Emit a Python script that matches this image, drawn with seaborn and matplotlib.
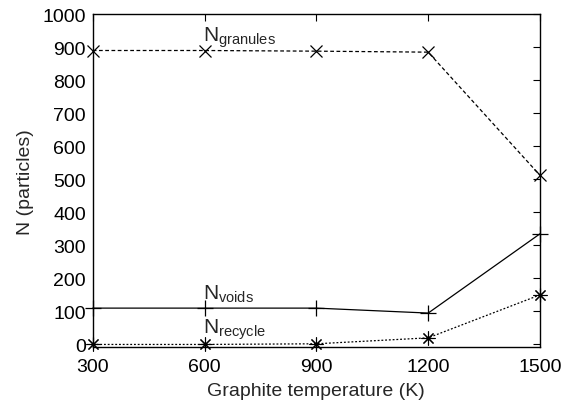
import matplotlib
matplotlib.use("Agg")
import matplotlib.pyplot as plt
import seaborn as sns
import pandas as pd

temps = [300, 600, 900, 1200, 1500]
n_granules = [890, 890, 888, 885, 512]
n_voids = [110, 110, 110, 95, 335]
n_recycle = [0, 0, 2, 20, 150]
x_ticks = [300, 600, 900, 1200, 1500]
y_ticks = [0, 100, 200, 300, 400, 500, 600, 700, 800, 900, 1000]

sns.set_theme(style="white")
plt.rcParams['font.family'] = ['Liberation Sans', 'DejaVu Sans']
plt.rcParams['mathtext.fontset'] = 'custom'
plt.rcParams['mathtext.rm'] = 'Liberation Sans'
plt.rcParams['mathtext.it'] = 'Liberation Sans'

fig = plt.figure(figsize=(5.76, 4.10), dpi=100)
ax = fig.add_axes([0.161, 0.151, 0.7765, 0.812])

df = pd.DataFrame({"T": temps, "g": n_granules, "v": n_voids, "r": n_recycle})

common = dict(ax=ax, color="black", lw=0.9, mec="black", clip_on=False)
sns.lineplot(data=df, x="T", y="g", linestyle=(0, (3, 2)), marker="x",
             markersize=9, mew=0.9, **common)
sns.lineplot(data=df, x="T", y="v", linestyle="-", marker="+",
             markersize=11, mew=0.9, **common)
sns.lineplot(data=df, x="T", y="r", linestyle=(0, (1.5, 1.5)), marker=(8, 2, 0),
             markersize=10, mew=0.8, **common)

ax.set_xlim(300, 1500)
ax.set_ylim(-8, 1000)
ax.set_xticks(x_ticks)
ax.set_yticks(y_ticks)
ax.tick_params(direction="in", length=5, width=0.8, top=True, right=True,
               labelsize=14, colors="black", pad=5)
ax.tick_params(axis="x", pad=8)
for s in ax.spines.values():
    s.set_color("black")
    s.set_linewidth(1.0)
ax.set_xlabel("Graphite temperature (K)", fontsize=14, labelpad=5)
ax.set_ylabel("N (particles)", fontsize=14, labelpad=6)

ax.text(595, 920, r"N$_{\mathrm{granules}}$", fontsize=15, ha="left", va="baseline")
ax.text(595, 137, r"N$_{\mathrm{voids}}$", fontsize=15, ha="left", va="baseline")
ax.text(595, 37, r"N$_{\mathrm{recycle}}$", fontsize=15, ha="left", va="baseline")

fig.savefig("out.png", dpi=100)
